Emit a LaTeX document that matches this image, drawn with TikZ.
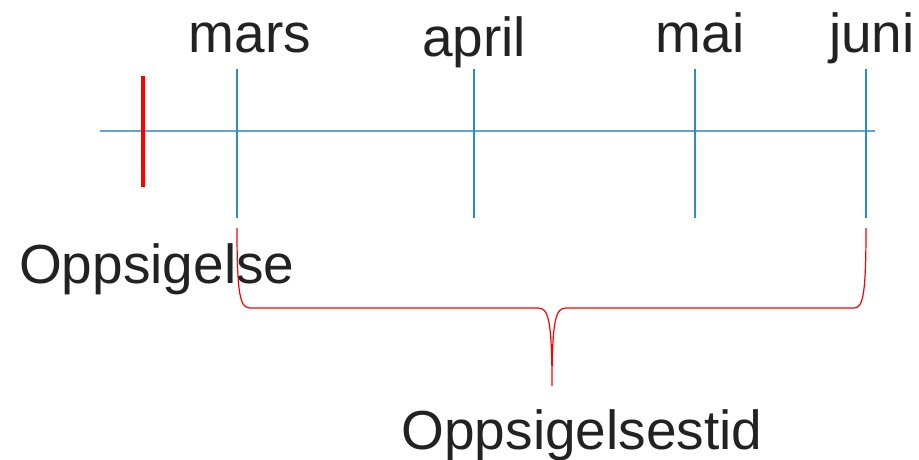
\documentclass[tikz,border=0pt]{standalone}
\usepackage{fontspec}
\setmainfont{Liberation Sans}
\definecolor{axisblue}{RGB}{95,165,210}
\definecolor{tickblue}{RGB}{45,140,200}
\definecolor{txt}{RGB}{34,34,34}
\begin{document}
\begin{tikzpicture}[x=1pt,y=-1pt,
  lbl/.style={anchor=base,inner sep=0pt,text=txt,font=\fontsize{55}{60}\selectfont},
  axisline/.style={draw=axisblue,line width=1.3pt},
  tickline/.style={draw=tickblue,line width=1.2pt},
  bracestyle/.style={draw=red,line width=1.2pt},
  marker/.style={draw=red,line width=4.5pt}]
\useasboundingbox (0,0) rectangle (919,460);
% axis
\coordinate (a0) at (100,131);
\coordinate (a1) at (875,131);
\draw[axisline] (a0) -- (a1);
% ticks
\foreach \n/\x in {t1/237,t2/474,t3/695,t4/866}{
  \coordinate (\n top) at (\x,69);
  \coordinate (\n bot) at (\x,218);
  \draw[tickline] (\n top) -- (\n bot);
}
% red marker
\coordinate (m0) at (143,76);
\coordinate (m1) at (143,187);
\draw[marker] (m0) -- (m1);
% labels
\node[lbl] (mars) at (250,53) {mars};
\node[lbl] (april) at (474,57) {april};
\node[lbl] (mai) at (700,53) {mai};
\node[lbl] (juni) at (872,53) {juni};
\node[lbl,anchor=base west] (opp) at (19,283) {Oppsigelse};
\node[lbl] (oppt) at (582,449) {Oppsigelsestid};
% brace
\coordinate (b0) at (237,228);
\coordinate (b1) at (250,308);
\coordinate (b2) at (538,308);
\coordinate (btip) at (552,386);
\coordinate (b3) at (566,308);
\coordinate (b4) at (854,308);
\coordinate (b5) at (866,228);
\draw[bracestyle] (b0) .. controls (237,295) and (240,308) .. (b1) -- (b2)
  .. controls (548,308) and (552,318) .. (btip)
  .. controls (552,318) and (556,308) .. (b3) -- (b4)
  .. controls (863,308) and (866,295) .. (b5);
\end{tikzpicture}
\end{document}
